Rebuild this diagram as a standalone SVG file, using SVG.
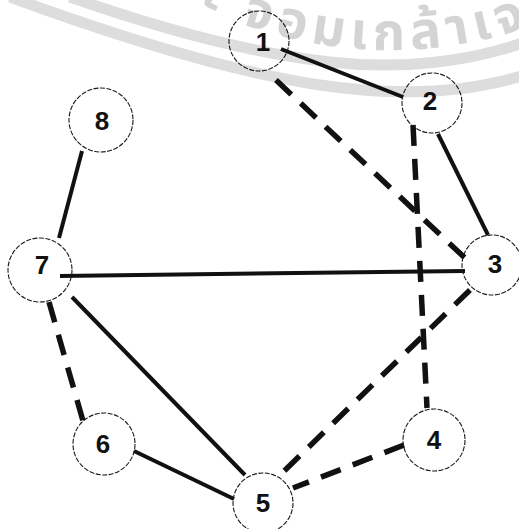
<svg xmlns="http://www.w3.org/2000/svg" width="519" height="529" viewBox="0 0 519 529">
<defs>
<style>
.wm { fill: none; stroke: #dddddd; stroke-width: 11; }
.wmtext { fill: #d4d4d4; font-family: "Noto Sans Thai", "Noto Sans", "DejaVu Sans", sans-serif; font-size: 52px; font-weight: bold; letter-spacing: 6px; }
.edge { stroke: #111111; fill: none; stroke-linecap: butt; }
.solid { stroke-width: 4; }
.dashed { stroke-width: 5.5; stroke-dasharray: 21 13; }
.node circle { fill: none; stroke: #1a1a1a; stroke-width: 1.1; stroke-dasharray: 5 1.5; }
.node text { font-family: "Liberation Sans", Arial, sans-serif; font-weight: bold; font-size: 26px; fill: #111111; text-anchor: middle; }
</style>
<path id="wmpath" d="M 150,-23 A 430 430 0 0 0 560,15"/>
</defs>
<rect width="519" height="529" fill="#ffffff"/>
<g id="watermark">
<path class="wm" d="M 70,-3 C 150,25 240,52 330,62 C 400,70 470,62 525,42"/>
<path class="wm" d="M 10,-3 C 100,30 220,70 320,85 C 400,97 470,92 525,75"/>
<text class="wmtext"><textPath href="#wmpath" startOffset="58">ะ จอมเกล้าเจ</textPath></text>
</g>
<g id="connectors">
<line class="edge solid" x1="281" y1="49" x2="403" y2="97"/>
<line class="edge solid" x1="438" y1="134" x2="488" y2="235"/>
<line class="edge dashed" x1="276" y1="80" x2="466" y2="259"/>
<line class="edge dashed" x1="413" y1="125" x2="427" y2="408"/>
<line class="edge solid" x1="60" y1="276" x2="465" y2="271"/>
<line class="edge solid" x1="82" y1="151" x2="59" y2="238"/>
<line class="edge dashed" x1="49" y1="302" x2="83" y2="421"/>
<line class="edge solid" x1="72" y1="297" x2="245" y2="475"/>
<line class="edge solid" x1="134" y1="451" x2="234" y2="499"/>
<line class="edge dashed" x1="470" y1="290" x2="280" y2="475"/>
<line class="edge dashed" x1="404" y1="445" x2="293" y2="488"/>
</g>
<g id="node1" class="node"><circle cx="259" cy="41" r="30"/><text x="263" y="51">1</text></g>
<g id="node2" class="node"><circle cx="432" cy="103" r="30"/><text x="430" y="110">2</text></g>
<g id="node3" class="node"><circle cx="492" cy="265" r="30"/><text x="495" y="273">3</text></g>
<g id="node4" class="node"><circle cx="434" cy="440" r="31"/><text x="434" y="449">4</text></g>
<g id="node5" class="node"><circle cx="263" cy="503" r="30"/><text x="263" y="512">5</text></g>
<g id="node6" class="node"><circle cx="104" cy="444" r="31"/><text x="103" y="453">6</text></g>
<g id="node7" class="node"><circle cx="40" cy="270" r="32"/><text x="42" y="274">7</text></g>
<g id="node8" class="node"><circle cx="101" cy="120" r="32"/><text x="102" y="130">8</text></g>
</svg>
